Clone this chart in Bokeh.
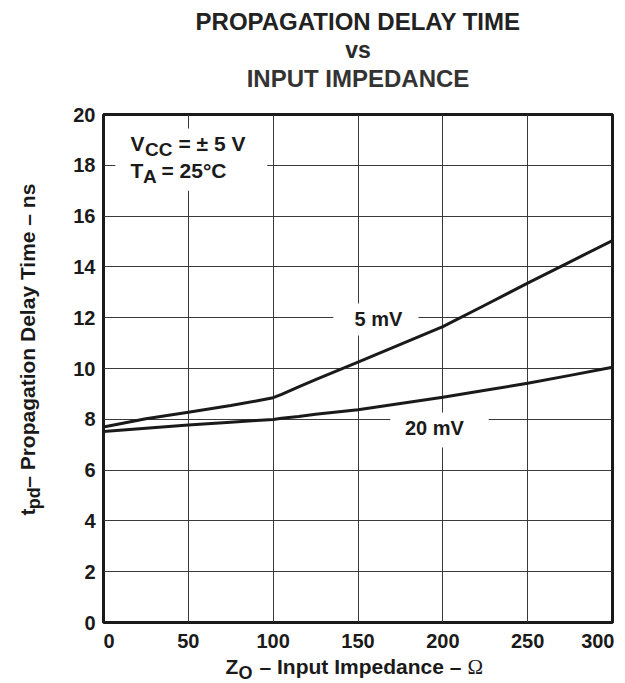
from bokeh.plotting import figure
from bokeh.models import Label, BoxAnnotation, FixedTicker, Range1d
from bokeh.layouts import column, row
from bokeh.embed import file_html
from bokeh.resources import INLINE
import math

# ---- data ----
impedance = [0, 25, 50, 75, 90, 100, 105, 115, 125, 150, 175, 200, 225, 250, 275, 300]
delay_5mv = [7.70, 8.02, 8.28, 8.54, 8.72, 8.85, 8.98, 9.28, 9.56, 10.25, 10.95, 11.65, 12.50, 13.36, 14.20, 15.04]
delay_20mv = [7.52, 7.65, 7.78, 7.88, 7.95, 7.99, 8.04, 8.11, 8.20, 8.38, 8.62, 8.87, 9.14, 9.42, 9.73, 10.05]
x_ticks = [0, 50, 100, 150, 200, 250, 300]
y_ticks = [0, 2, 4, 6, 8, 10, 12, 14, 16, 18, 20]
x_tick_labels = ["0", "50", "100", "150", "200", "250", "300"]

TXT = "#1a1a1a"
FONT = "Liberation Sans"
NB = "\u00a0"

TOP_H = 98
LEFT_W = 50
MAIN_L, MAIN_R, MAIN_T, MAIN_B = 53, 2, 16, 34
FRAME_W, FRAME_H = 509, 508
MAIN_W = MAIN_L + FRAME_W + MAIN_R
MID_H = MAIN_T + FRAME_H + MAIN_B
BOT_H = 26
TOTAL_W = 624


def mk_label(text, x, y, size, xu="data", yu="data", align="left", angle=0.0,
             font=FONT, style="bold", color=TXT, y_offset=0):
    return Label(x=x, y=y, x_units=xu, y_units=yu, text=text, text_font=font,
                 text_font_size=f"{size}px", text_font_style=style, text_color=color,
                 text_align=align, text_baseline="middle", angle=angle,
                 y_offset=y_offset)


def blank(w, h):
    f = figure(width=w, height=h, x_range=Range1d(0, w), y_range=Range1d(0, h),
               output_backend="svg", toolbar_location=None, title=None,
               x_axis_location=None, y_axis_location=None, min_border=0)
    f.grid.visible = False
    f.outline_line_color = None
    f.background_fill_color = "white"
    f.border_fill_color = "white"
    return f


# ---------- main plot ----------
p = figure(width=MAIN_W, height=MID_H, x_range=Range1d(0, 300), y_range=Range1d(0, 20),
           output_backend="svg", toolbar_location=None, title=None,
           min_border_left=MAIN_L, min_border_right=MAIN_R, min_border_top=MAIN_T,
           min_border_bottom=MAIN_B)
p.background_fill_color = "white"
p.border_fill_color = "white"
p.outline_line_color = "#1a1a1a"
p.outline_line_width = 3

p.xgrid.ticker = FixedTicker(ticks=x_ticks)
p.ygrid.ticker = FixedTicker(ticks=y_ticks)
for g in (p.xgrid, p.ygrid):
    g.grid_line_color = "#3a3a3a"
    g.grid_line_width = 1

for ax, tk in ((p.xaxis[0], x_ticks), (p.yaxis[0], y_ticks)):
    ax.ticker = FixedTicker(ticks=tk)
    ax.axis_line_color = None
    ax.major_tick_line_color = None
    ax.minor_tick_line_color = None
    ax.major_tick_out = 0
    ax.major_tick_in = 0
    ax.major_label_text_font = FONT
    ax.major_label_text_font_size = "20px"
    ax.major_label_text_font_style = "bold"
    ax.major_label_text_color = TXT
p.yaxis[0].major_label_standoff = 8
p.xaxis[0].major_label_standoff = 7
# first label sits right of its tick (as in the reference); last one is kept inside the canvas
ov = {v: s for v, s in zip(x_ticks, x_tick_labels)}
ov[x_ticks[0]] = NB * 2 + x_tick_labels[0]
p.xaxis[0].major_label_overrides = ov

# white backgrounds behind in-plot annotations
for (l, r, b, t) in [(7, 96.5, 17.0, 19.45), (135.5, 185.6, 11.3, 12.56), (169, 227, 6.89, 8.27)]:
    p.add_layout(BoxAnnotation(left=l, right=r, bottom=b, top=t, fill_color="white", fill_alpha=1.0,
                               line_color=None, level="underlay"))

p.line(impedance, delay_5mv, line_color="#1a1a1a", line_width=3, line_join="round")
p.line(impedance, delay_20mv, line_color="#1a1a1a", line_width=3, line_join="round")

# conditions (screen coords: x from frame left, y up from frame bottom)
for txt, x, y, s in [("V", 27, 478.8, 21), ("CC", 41.5, 473.3, 19), ("= \u00b1 5 V", 75, 478.8, 21),
                     ("T", 27, 451.8, 21), ("A", 39.5, 445.8, 19), ("= 25\u00b0C", 58, 451.8, 21)]:
    p.add_layout(mk_label(txt, x, y, s, xu="screen", yu="screen"))

# curve labels
p.add_layout(mk_label("5 mV", 162, 12, 20, align="center", y_offset=-1))
p.add_layout(mk_label("20 mV", 195, 8, 20, align="center", y_offset=-9))

# ---------- title ----------
t = blank(TOTAL_W, TOP_H)
t.add_layout(mk_label("PROPAGATION DELAY TIME", 357.5, 77.5, 24, align="center", color="#222222"))
t.add_layout(mk_label("vs", 357.5, 48.3, 23, align="center", color="#2a2a2a"))
t.add_layout(mk_label("INPUT IMPEDANCE", 357.5, 19.7, 24, align="center", color="#333333"))

# ---------- y axis title ----------
yl = blank(LEFT_W, MID_H)
base = TOP_H + MID_H
yl.add_layout(mk_label("t", 27, base - 534.5, 21, align="center", angle=math.pi / 2))
yl.add_layout(mk_label("pd", 33, base - 519.5, 18, align="center", angle=math.pi / 2))
yl.add_layout(mk_label("\u2013 Propagation Delay Time \u2013 ns", 27, base - 341, 21, align="center",
                       angle=math.pi / 2))

# ---------- x axis title ----------
xb = blank(TOTAL_W, BOT_H)
xb.add_layout(mk_label("Z", 225, 16.2, 21))
xb.add_layout(mk_label("O", 238, 9.8, 18))
xb.add_layout(mk_label("\u2013 Input Impedance \u2013", 259, 16.2, 21))
xb.add_layout(mk_label("\u03a9", 467, 16, 21, font="Liberation Serif", style="normal"))

layout = column(t, row(yl, p), xb)
open("out.html", "w").write(file_html(layout, INLINE))
